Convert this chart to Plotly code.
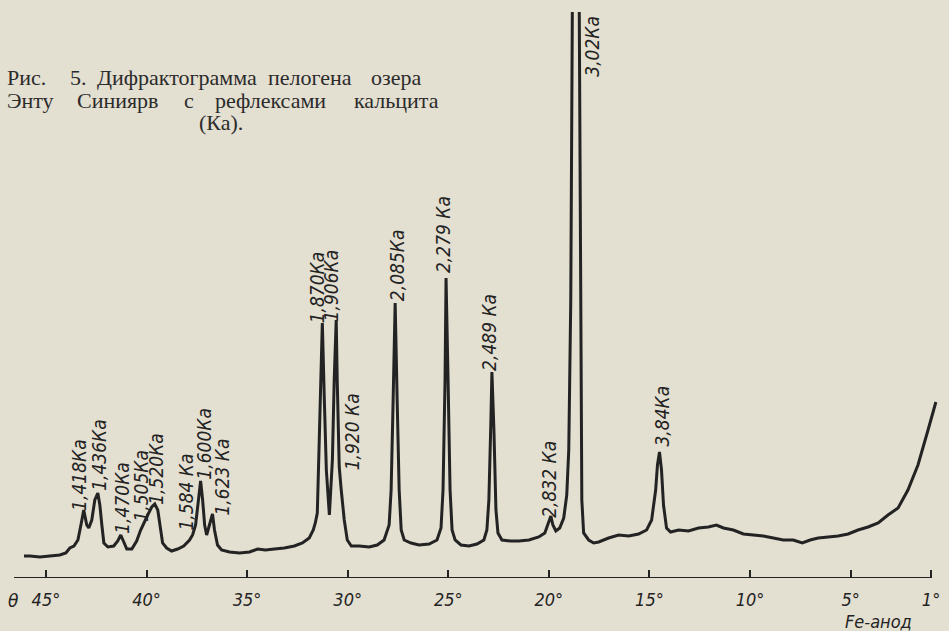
import plotly.graph_objects as go

# ---- data (theta in degrees, intensity in arbitrary units) ----
theta = [46.09, 45.79, 45.30, 44.80, 44.31, 44.01, 43.81, 43.61, 43.41, 43.26, 43.12, 42.97, 42.87,
         42.72, 42.57, 42.42, 42.32, 42.22, 42.12, 41.92, 41.63, 41.43, 41.28, 41.13, 40.98, 40.73,
         40.49, 40.29, 40.14, 39.94, 39.74, 39.59, 39.44, 39.30, 39.20, 39.00, 38.75, 38.45, 38.15,
         37.86, 37.71, 37.56, 37.41, 37.31, 37.21, 37.11, 37.01, 36.87, 36.72, 36.62, 36.47, 36.27,
         35.87, 35.38, 34.88, 34.48, 34.09, 33.64, 33.15, 32.65, 32.25, 31.91, 31.71, 31.61, 31.51,
         31.41, 31.31, 31.26, 31.16, 31.06, 30.91, 30.76, 30.67, 30.57, 30.52, 30.42, 30.32, 30.17,
         30.02, 29.82, 29.43, 28.93, 28.53, 28.19, 27.94, 27.84, 27.74, 27.64, 27.54, 27.44, 27.34,
         27.19, 26.85, 26.45, 25.95, 25.56, 25.36, 25.26, 25.16, 25.11, 25.01, 24.91, 24.81, 24.66,
         24.37, 23.97, 23.57, 23.23, 23.08, 22.98, 22.88, 22.83, 22.73, 22.63, 22.53, 22.33, 21.89,
         21.49, 20.99, 20.50, 20.20, 20.00, 19.90, 19.80, 19.65, 19.46, 19.26, 19.11, 19.01, 18.91,
         18.86, 18.81, 18.51, 18.46, 18.41, 18.36, 18.27, 18.02, 17.77, 17.52, 17.03, 16.53, 16.03,
         15.54, 15.14, 14.89, 14.69, 14.60, 14.50, 14.40, 14.30, 14.15, 13.95, 13.55, 13.06, 12.56,
         12.07, 11.67, 11.32, 10.83, 10.33, 9.83, 9.34, 8.84, 8.35, 7.85, 7.40, 7.01, 6.61, 6.11,
         5.62, 5.12, 4.63, 4.13, 3.63, 3.14, 2.64, 2.15, 1.65, 1.15, 0.76]
intensity = [22, 22, 21, 22, 23, 25, 30, 32, 38, 53, 68, 53, 50,
             58, 78, 85, 73, 53, 35, 31, 32, 37, 43, 36, 29, 29,
             37, 48, 55, 63, 71, 74, 68, 48, 35, 30, 27, 29, 32,
             38, 43, 53, 83, 97, 78, 53, 43, 53, 64, 48, 33, 28,
             26, 25, 26, 29, 28, 29, 30, 32, 35, 40, 48, 55, 65,
             140, 240, 255, 178, 108, 63, 118, 198, 258, 198, 111, 88, 58,
             38, 32, 32, 31, 33, 38, 53, 88, 178, 275, 178, 88, 48,
             38, 35, 33, 34, 38, 50, 88, 198, 300, 198, 88, 48, 38,
             33, 32, 34, 38, 48, 78, 158, 206, 148, 68, 45, 38, 37,
             37, 38, 41, 45, 56, 62, 53, 47, 50, 60, 83, 128, 278,
             428, 650, 650, 428, 178, 78, 45, 38, 35, 36, 40, 43, 42,
             44, 48, 58, 88, 113, 126, 108, 73, 50, 46, 48, 47, 50,
             51, 53, 50, 48, 44, 43, 42, 40, 38, 38, 35, 38, 40, 41,
             42, 44, 48, 51, 55, 63, 70, 88, 113, 148, 176]

tick_vals = [45, 40, 35, 30, 25, 20, 15, 10, 5, 1]
tick_text = ["45°", "40°", "35°", "30°", "25°", "20°", "15°", "10°", "5°", "1°"]

peak_labels = ["1,418Ка", "1,436Ка", "1,470Ка", "1,505Ка", "1,520Ка", "1,584 Ка", "1,600Ка",
               "1,623 Ка", "1,870Ка", "1,906Ка", "1,920 Ка", "2,085Ка", "2,279 Ка", "2,489 Ка",
               "2,832 Ка", "3,02Ка", "3,84Ка"]
label_theta = [43.36, 42.37, 41.23, 40.29, 39.54, 38.06, 37.16, 36.27, 31.51, 30.81, 29.77,
               27.54, 25.26, 22.98, 20.00, 17.87, 14.40]
label_int = [103, 123, 80, 92, 109, 86, 134, 101, 291, 293, 146, 313, 343, 246, 99, 532, 162]

caption_lines = [
    ["Рис.", "5.", "Дифрактограмма", "пелогена", "озера"],
    ["Энту", "Синиярв", "с", "рефлексами", "кальцита"],
    ["(Ка)."],
]
caption_word_x = [
    [5, 68, 95, 267, 370],
    [5, 75, 182, 213, 353],
    [197],
]
caption_line_y = [77, 100, 123]

# ---- layout geometry ----
W, H = 949, 631
ML, MR, MT, MB = 14, 9, 12, 53
PW, PH = W - ML - MR, H - MT - MB
XR = [46.587, 0.655]
YR = [0, 566]

INK = "#232323"
BG = "#e3dfd1"
LABEL_FONT = "DejaVu Sans Condensed, Liberation Sans Narrow, DejaVu Sans"


def px(xp):
    return (xp - ML) / PW


def py(yp):
    return (H - MB - yp) / PH


fig = go.Figure()
fig.add_trace(go.Scatter(x=theta, y=intensity, mode="lines",
                         line=dict(color=INK, width=3), hoverinfo="skip",
                         showlegend=False))

annotations = []
for lab, tx, ty in zip(peak_labels, label_theta, label_int):
    annotations.append(dict(x=tx, y=ty, xref="x", yref="y", text=lab, showarrow=False,
                            textangle=-90, xanchor="center", yanchor="middle",
                            font=dict(family=LABEL_FONT, size=19, color=INK, style="italic")))

for words, xs, yl in zip(caption_lines, caption_word_x, caption_line_y):
    for w, xw in zip(words, xs):
        annotations.append(dict(x=px(xw), y=py(yl), xref="paper", yref="paper", text=w,
                                showarrow=False, xanchor="left", yanchor="middle",
                                font=dict(family="Liberation Serif, Times New Roman, serif",
                                          size=22, color="#2b2b2b")))

annotations.append(dict(x=px(13), y=py(601), xref="paper", yref="paper", text="θ",
                        showarrow=False, xanchor="center", yanchor="middle",
                        font=dict(family="DejaVu Sans", size=17, color=INK, style="italic")))
annotations.append(dict(x=px(880), y=py(621), xref="paper", yref="paper", text="Fe-анод",
                        showarrow=False, xanchor="center", yanchor="middle",
                        font=dict(family=LABEL_FONT, size=18, color=INK, style="italic")))

fig.update_layout(
    width=W, height=H,
    margin=dict(l=ML, r=MR, t=MT, b=MB, pad=0),
    paper_bgcolor=BG, plot_bgcolor=BG,
    annotations=annotations,
    hovermode=False,
    shapes=[dict(type="line", xref="x", yref="y", x0=XR[0], x1=1, y0=0, y1=0,
                 line=dict(color=INK, width=2))],
    xaxis=dict(range=XR, showgrid=False, zeroline=False, showline=False,
               ticks="inside", ticklen=8, tickwidth=2, tickcolor=INK,
               tickvals=tick_vals, ticktext=tick_text, ticklabelstandoff=9,
               tickfont=dict(family=LABEL_FONT, size=18, color=INK, style="italic")),
    yaxis=dict(range=YR, visible=False),
)

fig.write_html("out.html", config={"displayModeBar": False, "staticPlot": True},
               post_script="document.body.style.margin='0px';document.body.style.overflow='hidden';")
